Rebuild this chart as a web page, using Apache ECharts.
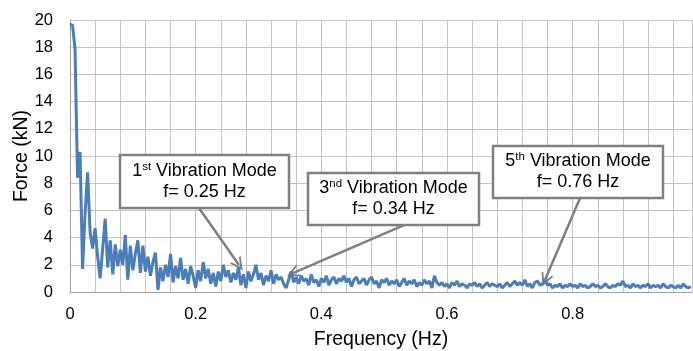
<!DOCTYPE html>
<html><head><meta charset="utf-8">
<script src="https://cdn.jsdelivr.net/npm/echarts@6/dist/echarts.min.js"></script>
<style>html,body{margin:0;padding:0;background:#fff}#c{width:693px;height:351px}</style>
</head><body><div id="c"></div>
<script>
// Frequency (Hz)
const freq = [
0,0.004,0.008,0.012,0.016,0.02,0.024,0.028,0.032,0.036,
0.04,0.044,0.048,0.052,0.056,0.06,0.064,0.068,0.072,0.076,
0.08,0.084,0.088,0.092,0.096,0.1,0.104,0.108,0.112,0.116,
0.12,0.124,0.128,0.132,0.136,0.14,0.144,0.148,0.152,0.156,
0.16,0.164,0.168,0.172,0.176,0.18,0.184,0.188,0.192,0.196,
0.2,0.204,0.208,0.212,0.216,0.22,0.224,0.228,0.232,0.236,
0.24,0.244,0.248,0.252,0.256,0.26,0.264,0.268,0.272,0.276,
0.28,0.284,0.288,0.292,0.296,0.3,0.304,0.308,0.312,0.316,
0.32,0.324,0.328,0.332,0.336,0.34,0.344,0.348,0.352,0.356,
0.36,0.364,0.368,0.372,0.376,0.38,0.384,0.388,0.392,0.396,
0.4,0.404,0.408,0.412,0.416,0.42,0.424,0.428,0.432,0.436,
0.44,0.444,0.448,0.452,0.456,0.46,0.464,0.468,0.472,0.476,
0.48,0.484,0.488,0.492,0.496,0.5,0.504,0.508,0.512,0.516,
0.52,0.524,0.528,0.532,0.536,0.54,0.544,0.548,0.552,0.556,
0.56,0.564,0.568,0.572,0.576,0.58,0.584,0.588,0.592,0.596,
0.6,0.604,0.608,0.612,0.616,0.62,0.624,0.628,0.632,0.636,
0.64,0.644,0.648,0.652,0.656,0.66,0.664,0.668,0.672,0.676,
0.68,0.684,0.688,0.692,0.696,0.7,0.704,0.708,0.712,0.716,
0.72,0.724,0.728,0.732,0.736,0.74,0.744,0.748,0.752,0.756,
0.76,0.764,0.768,0.772,0.776,0.78,0.784,0.788,0.792,0.796,
0.8,0.804,0.808,0.812,0.816,0.82,0.824,0.828,0.832,0.836,
0.84,0.844,0.848,0.852,0.856,0.86,0.864,0.868,0.872,0.876,
0.88,0.884,0.888,0.892,0.896,0.9,0.904,0.908,0.912,0.916,
0.92,0.924,0.928,0.932,0.936,0.94,0.944,0.948,0.952,0.956,
0.96,0.964,0.968,0.972,0.976,0.98,0.984,0.988
];
// Force (kN)
const force = [
19.7,19.6,17.9,8.4,10.3,1.7,5.8,8.8,4.4,3.2,
4.7,2.6,1.0,3.2,5.4,1.8,3.8,1.3,3.5,1.9,
3.1,2.0,4.2,0.9,3.4,1.6,2.8,3.8,1.4,3.4,
1.5,2.6,1.2,2.2,2.9,0.15,1.8,0.8,2.0,1.1,
2.8,0.7,1.9,1.0,2.5,0.9,1.7,0.6,1.9,1.2,
0.3,1.6,0.8,2.2,1.0,1.7,0.6,1.4,0.4,1.5,
0.8,2.0,1.1,1.6,0.7,1.4,0.9,1.8,0.5,1.3,
0.3,1.5,0.8,1.3,2.0,0.9,1.4,0.5,1.2,0.8,
1.6,0.6,1.3,0.9,1.1,0.6,0.3,0.9,1.5,0.7,
1.1,0.6,1.2,0.8,1.0,0.5,1.3,0.7,0.9,0.4,
1.0,0.7,1.2,0.5,0.9,1.1,0.6,1.0,0.8,1.2,
0.7,1.0,0.4,0.9,1.1,0.6,0.8,1.0,0.5,0.9,
1.1,0.6,0.8,0.3,0.9,0.7,1.0,0.5,0.8,0.6,
0.9,0.4,0.7,1.0,0.5,0.8,0.6,0.9,0.4,0.7,
0.5,0.9,0.6,0.8,0.3,1.2,0.7,0.5,0.7,0.4,
0.6,0.3,0.7,0.5,0.8,0.4,0.6,0.5,0.3,0.6,
0.5,0.7,0.4,0.6,0.3,0.5,0.7,0.4,0.6,0.5,
0.4,0.6,0.3,0.5,0.7,0.4,0.6,0.8,0.5,0.7,
0.5,0.9,0.4,0.6,0.3,0.7,0.8,0.5,0.6,0.9,
0.5,0.6,0.3,0.5,0.4,0.6,0.3,0.5,0.4,0.6,
0.4,0.5,0.3,0.6,0.4,0.5,0.3,0.4,0.6,0.4,
0.5,0.3,0.4,0.6,0.4,0.3,0.5,0.4,0.6,0.5,
0.8,0.4,0.5,0.3,0.6,0.4,0.5,0.3,0.5,0.4,
0.6,0.3,0.5,0.4,0.5,0.3,0.6,0.4,0.3,0.5,
0.4,0.3,0.5,0.3,0.6,0.4,0.3,0.4
];
const xTickLabels = ['0','0.2','0.4','0.6','0.8'];
const xTitle = 'Frequency (Hz)';
const yTitle = 'Force (kN)';
// annotation texts: [ordinal number, ordinal suffix, frequency text]
const modeNum = ['1','3','5'];
const modeSuffix = ['st','nd','th'];
const modeFreqText = ['f= 0.25 Hz','f= 0.34 Hz','f= 0.76 Hz'];
// arrow start / end points in data space [freq, force]
const arrowStart = [[0.2053,6.17],[0.5316,4.92],[0.8117,6.90]];
const arrowEnd = [[0.269,1.98],[0.3549,1.39],[0.756,0.88]];

const FONT = 'Liberation Sans, Arial, sans-serif';
const seriesData = freq.map((f,i)=>[f, force[i]]);
// annotation box layout (pixels)
const boxLayout = [
  {x:120,y:155,w:169,h:53},
  {x:308,y:173,w:171,h:52},
  {x:493,y:146,w:170,h:52}
];
const graphics = [];
boxLayout.forEach((b,i)=>{
  graphics.push({type:'rect', z:100, shape:{x:b.x,y:b.y,width:b.w,height:b.h},
    style:{fill:'#fff', stroke:'#7f7f7f', lineWidth:2.5}});
  graphics.push({type:'text', z:101, x:b.x+b.w/2, y:b.y+b.h/2,
    style:{
      text:'{n|'+modeNum[i]+'}{s|'+modeSuffix[i]+'}{n| Vibration Mode}\n{n|'+modeFreqText[i]+'}',
      align:'center', verticalAlign:'middle', fill:'#000', fontFamily:FONT, fontSize:18,
      rich:{
        n:{fontSize:18, fontFamily:FONT, lineHeight:21, fill:'#000'},
        s:{fontSize:11.5, fontFamily:FONT, verticalAlign:'top', fill:'#000'}
      }
    }});
});

const chart = echarts.init(document.getElementById('c'), null, {renderer:'canvas'});
chart.setOption({
  animation:false,
  backgroundColor:'#fff',
  grid:{left:70, right:1, top:20, bottom:59, containLabel:false, outerBoundsMode:'none'},
  xAxis:{
    type:'value', min:0, max:0.99, interval:0.04,
    name:xTitle, nameLocation:'middle', nameGap:38, nameMoveOverlap:false,
    nameTextStyle:{fontSize:19.5, fontFamily:FONT, color:'#000'},
    axisLine:{show:true, lineStyle:{color:'#a0a0a0', width:1}},
    axisTick:{show:false},
    axisLabel:{fontSize:16.5, fontFamily:FONT, color:'#000', margin:14, showMaxLabel:false,
      formatter:function(v){
        const k = Math.round(v/0.2);
        if (Math.abs(v-k*0.2) < 1e-6 && k < xTickLabels.length) return xTickLabels[k];
        return '';
      }},
    splitLine:{show:true, lineStyle:{color:'#c4c4c4', width:1}}
  },
  yAxis:{
    type:'value', min:0, max:20, interval:2,
    name:yTitle, nameLocation:'middle', nameGap:38, nameRotate:90, nameMoveOverlap:false,
    nameTextStyle:{fontSize:19.5, fontFamily:FONT, color:'#000'},
    axisLine:{show:true, lineStyle:{color:'#a0a0a0', width:1}},
    axisTick:{show:false},
    axisLabel:{fontSize:16.5, fontFamily:FONT, color:'#000', margin:17},
    splitLine:{show:true, lineStyle:{color:'#c4c4c4', width:1}}
  },
  series:[{
    type:'line', data:seriesData, showSymbol:false, symbol:'none',
    lineStyle:{color:'#4a7ebb', width:3}, itemStyle:{color:'#4a7ebb'},
    z:5,
    markLine:{
      silent:true, animation:false,
      symbol:['none','path://M0 12 L6 0 L12 12 L10.2 12 L6 4 L1.8 12 Z'],
      symbolSize:[13,13],
      label:{show:false},
      lineStyle:{color:'#7f7f7f', width:2.5, type:'solid'},
      data: arrowStart.map((s,i)=>[{coord:s},{coord:arrowEnd[i]}])
    }
  }],
  graphic:graphics
});
</script>
</body></html>
